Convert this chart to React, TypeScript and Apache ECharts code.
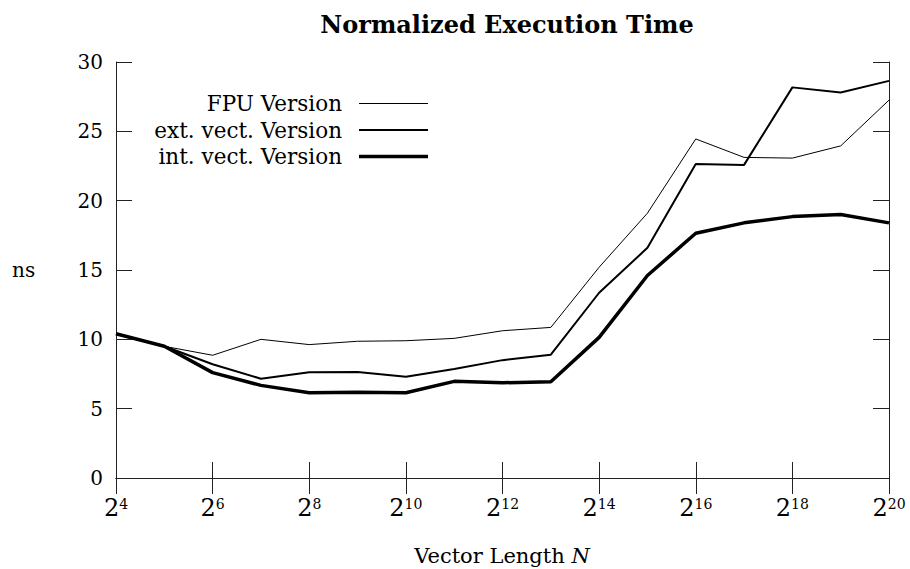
import React, { useEffect, useRef } from "react";
import * as echarts from "echarts";

const exponents = [4, 5, 6, 7, 8, 9, 10, 11, 12, 13, 14, 15, 16, 17, 18, 19, 20];
const fpuVersion = [10.4, 9.5, 8.85, 10.0, 9.62, 9.86, 9.9, 10.07, 10.62, 10.86, 15.2, 19.1, 24.45, 23.12, 23.07, 23.95, 27.25];
const extVectVersion = [10.4, 9.5, 8.2, 7.16, 7.62, 7.64, 7.3, 7.86, 8.5, 8.89, 13.36, 16.6, 22.65, 22.58, 28.17, 27.8, 28.64];
const intVectVersion = [10.4, 9.5, 7.6, 6.68, 6.15, 6.18, 6.15, 6.97, 6.87, 6.94, 10.14, 14.6, 17.65, 18.4, 18.85, 19.0, 18.4];
const seriesNames = ["FPU Version", "ext. vect. Version", "int. vect. Version"];
const lineWidths = [1, 2, 3.5];
const yTicks = [0, 5, 10, 15, 20, 25, 30];
const xTickExponents = [4, 6, 8, 10, 12, 14, 16, 18, 20];

const FONT = "DejaVu Serif";

export default function App() {
  const ref = useRef<HTMLDivElement>(null);
  useEffect(() => {
    if (!ref.current) return;
    const chart = echarts.init(ref.current, null, { renderer: "svg" });
    const allSeries = [fpuVersion, extVectVersion, intVectVersion];
    const legendGraphics: any[] = [];
    seriesNames.forEach((name, i) => {
      const y = 103.5 + i * 26.5;
      legendGraphics.push({
        type: "text",
        x: 342,
        y: y,
        style: {
          text: name,
          align: "right",
          verticalAlign: "middle",
          font: `21.5px "${FONT}"`,
          fill: "#000",
        },
      });
      legendGraphics.push({
        type: "line",
        shape: { x1: 359, y1: y, x2: 428, y2: y },
        style: { stroke: "#000", lineWidth: lineWidths[i] },
      });
    });
    const axisLineStyle = { lineStyle: { color: "#222", width: 1 } };
    const labelRich = {
      b: { fontSize: 24, fontFamily: FONT, color: "#000", verticalAlign: "top", lineHeight: 26 },
      s: { fontSize: 14, fontFamily: FONT, color: "#000", verticalAlign: "top", lineHeight: 14, padding: [1, 0, 0, 0] },
    };
    chart.setOption({
      animation: false,
      backgroundColor: "#fff",
      title: {
        text: "Normalized Execution Time",
        left: 502,
        textAlign: "center",
        top: 7,
        textStyle: { fontFamily: FONT, fontSize: 24, fontWeight: "bold", color: "#000" },
      },
      grid: { left: 116, right: 21, top: 62, bottom: 91, outerBoundsMode: "none", containLabel: false },
      xAxis: [
        {
          type: "value",
          min: 4,
          max: 20,
          interval: 2,
          position: "bottom",
          axisLine: axisLineStyle,
          axisTick: { inside: true, length: 16, lineStyle: { color: "#222" } },
          splitLine: { show: false },
          axisLabel: {
            margin: 18,
            formatter: (v: number) => (xTickExponents.includes(v) ? `{b|2}{s|${v}}` : ""),
            rich: labelRich,
          },
        },
        {
          type: "value",
          min: 4,
          max: 20,
          interval: 2,
          position: "top",
          axisLine: axisLineStyle,
          axisTick: { inside: true, length: 16, lineStyle: { color: "#222" } },
          splitLine: { show: false },
          axisLabel: { show: false },
        },
      ],
      yAxis: [
        {
          type: "value",
          min: 0,
          max: 30,
          interval: 5,
          position: "left",
          axisLine: { show: true, ...axisLineStyle },
          axisTick: { show: true, inside: true, length: 16, lineStyle: { color: "#222" } },
          splitLine: { show: false },
          axisLabel: {
            margin: 13,
            formatter: (v: number) => (yTicks.includes(v) ? String(v) : ""),
            fontFamily: FONT,
            fontSize: 20,
            color: "#000",
          },
        },
        {
          type: "value",
          min: 0,
          max: 30,
          interval: 5,
          position: "right",
          axisLine: { show: true, ...axisLineStyle },
          axisTick: { show: true, inside: true, length: 16, lineStyle: { color: "#222" } },
          splitLine: { show: false },
          axisLabel: { show: false },
        },
      ],
      series: allSeries.map((vals, i) => ({
        name: seriesNames[i],
        type: "line",
        xAxisIndex: 0,
        yAxisIndex: 0,
        data: exponents.map((e, j) => [e, vals[j]]),
        showSymbol: false,
        symbol: "none",
        lineStyle: { color: "#000", width: lineWidths[i] },
        z: 3 + i,
      })),
      graphic: [
        {
          type: "text",
          x: 12,
          y: 270,
          style: {
            text: "ns",
            verticalAlign: "middle",
            font: `20px "${FONT}"`,
            fill: "#000",
          },
        },
        {
          type: "text",
          x: 502,
          y: 556,
          style: {
            text: "Vector Length {i|N}",
            align: "center",
            verticalAlign: "middle",
            font: `21px "${FONT}"`,
            fill: "#000",
            rich: { i: { font: `italic 21px "${FONT}"`, fill: "#000" } },
          },
        },
        ...legendGraphics,
      ],
    });
    return () => chart.dispose();
  }, []);
  return (
    <div
      ref={ref}
      style={{ position: "fixed", left: 0, top: 0, width: 910, height: 569, background: "#fff" }}
    />
  );
}
